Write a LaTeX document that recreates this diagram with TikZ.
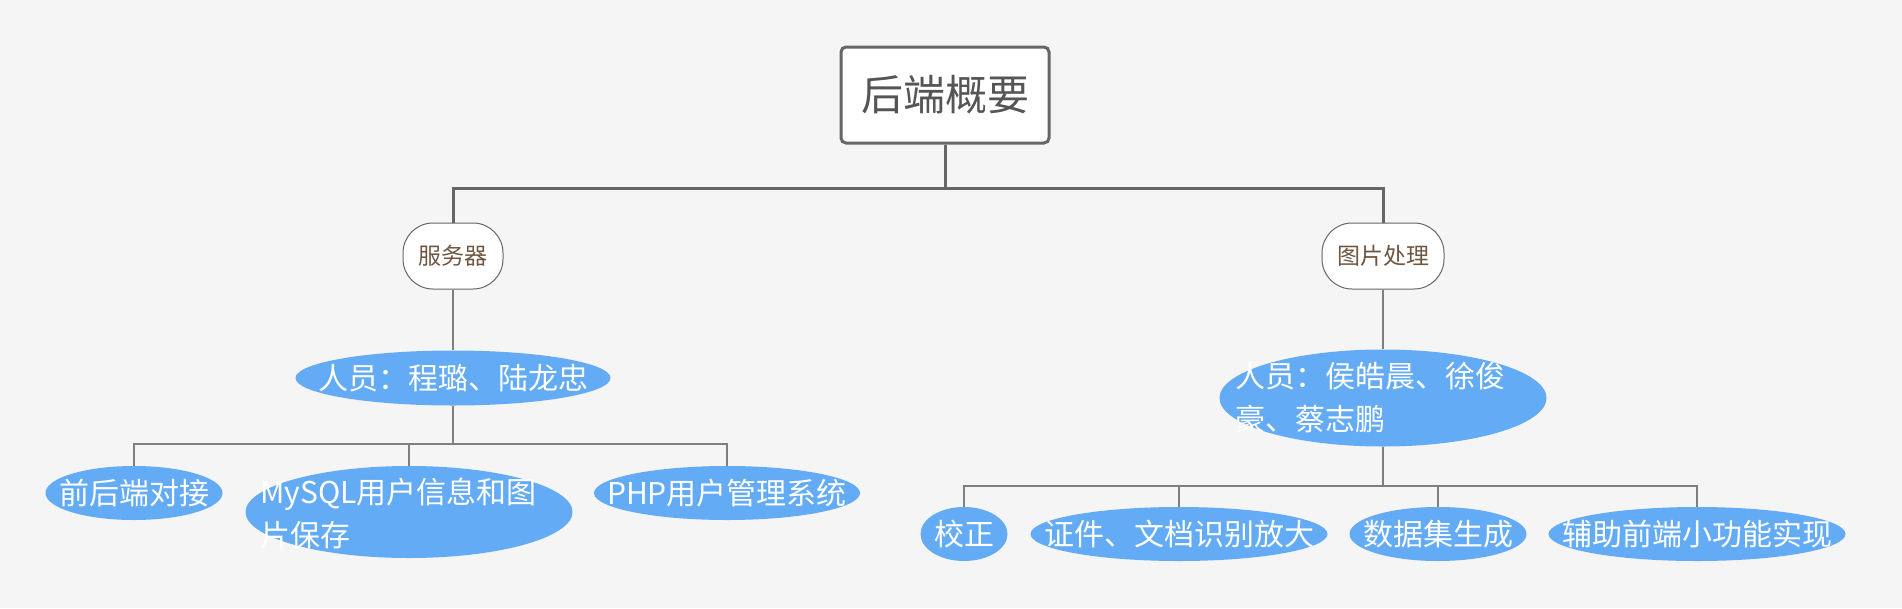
\documentclass[tikz,border=0pt]{standalone}
\usepackage{fontspec}
\newfontfamily\cjk{Noto Sans CJK SC}
\usetikzlibrary{shapes.geometric}
\definecolor{bgc}{HTML}{F5F5F5}
\definecolor{trunkc}{HTML}{666666}
\definecolor{branchc}{HTML}{7F7F7F}
\definecolor{blobc}{HTML}{64ABF6}
\definecolor{brownc}{HTML}{6E5642}
\definecolor{roottxt}{HTML}{555555}
\tikzset{
  rootbox/.style={draw=trunkc, line width=3pt, fill=white, rounded corners=5pt,
    minimum width=208pt, minimum height=96pt, inner sep=0pt,
    font=\cjk\fontsize{42}{50}\selectfont, text=roottxt},
  subbox/.style={draw=trunkc, line width=1pt, fill=white, rounded corners=30pt,
    minimum height=66pt, inner sep=0pt, font=\cjk\fontsize{23}{28}\selectfont, text=brownc},
  blob/.style={ellipse, fill=blobc, draw=none, inner sep=0pt},
  blobtxt/.style={inner sep=0pt, text=white, font=\cjk\fontsize{30}{43}\selectfont, align=left},
  trunk/.style={draw=trunkc, line width=3pt},
  branch/.style={draw=branchc, line width=1.5pt},
}
\begin{document}
\begin{tikzpicture}[x=1pt,y=-1pt]
\useasboundingbox[fill=bgc] (0,0) rectangle (1902,608);
% main nodes
\node[rootbox] (root) at (945,95) {后端概要};
\node[subbox, minimum width=100pt] (srv) at (453,256) {服务器};
\node[subbox, minimum width=122pt] (img) at (1383,256) {图片处理};
% person ellipses
\node[blob, minimum width=315pt, minimum height=55pt] (p1) at (453,378) {};
\node[blobtxt] (p1t) at (p1.center) {人员：程璐、陆龙忠};
\node[blob, minimum width=327pt, minimum height=97pt] (p2) at (1383,398) {};
\node[blobtxt, anchor=west] (p2t) at (1235,398) {人员：侯皓晨、徐俊\\豪、蔡志鹏};
% row 1
\node[blob, minimum width=177pt, minimum height=54pt] (c1) at (134,493) {};
\node[blobtxt] (c1t) at (c1.center) {前后端对接};
\node[blob, minimum width=327pt, minimum height=92pt] (c2) at (409,512) {};
\node[blobtxt, anchor=west] (c2t) at (260,513) {MySQL用户信息和图\\片保存};
\node[blob, minimum width=266pt, minimum height=54pt] (c3) at (727,493) {};
\node[blobtxt] (c3t) at (c3.center) {PHP用户管理系统};
% row 2
\node[blob, minimum width=87pt, minimum height=54pt] (d1) at (964,534) {};
\node[blobtxt] (d1t) at (d1.center) {校正};
\node[blob, minimum width=297pt, minimum height=54pt] (d2) at (1179,534) {};
\node[blobtxt] (d2t) at (d2.center) {证件、文档识别放大};
\node[blob, minimum width=177pt, minimum height=54pt] (d3) at (1438,534) {};
\node[blobtxt] (d3t) at (d3.center) {数据集生成};
\node[blob, minimum width=297pt, minimum height=54pt] (d4) at (1697,534) {};
\node[blobtxt] (d4t) at (d4.center) {辅助前端小功能实现};
% junction levels
\coordinate (h0) at (0,188);
\coordinate (h1) at (0,444);
\coordinate (h2) at (0,486);
% connectors
\draw[trunk] (root.south) -- (root.south |- h0);
\draw[trunk] (srv.north) -- (srv.north |- h0) -- (img.north |- h0) -- (img.north);
\draw[branch] (srv.south) -- (srv.south |- p1.north);
\draw[branch] (img.south) -- (img.south |- p2.north);
\draw[branch] (p1.south) -- (p1.south |- h1);
\draw[branch] (c1.north) -- (c1.north |- h1) -- (c3.north |- h1) -- (c3.north);
\draw[branch] (c2.north) -- (c2.north |- h1);
\draw[branch] (p2.south) -- (p2.south |- h2);
\draw[branch] (d1.north) -- (d1.north |- h2) -- (d4.north |- h2) -- (d4.north);
\draw[branch] (d2.north) -- (d2.north |- h2);
\draw[branch] (d3.north) -- (d3.north |- h2);
\end{tikzpicture}
\end{document}
